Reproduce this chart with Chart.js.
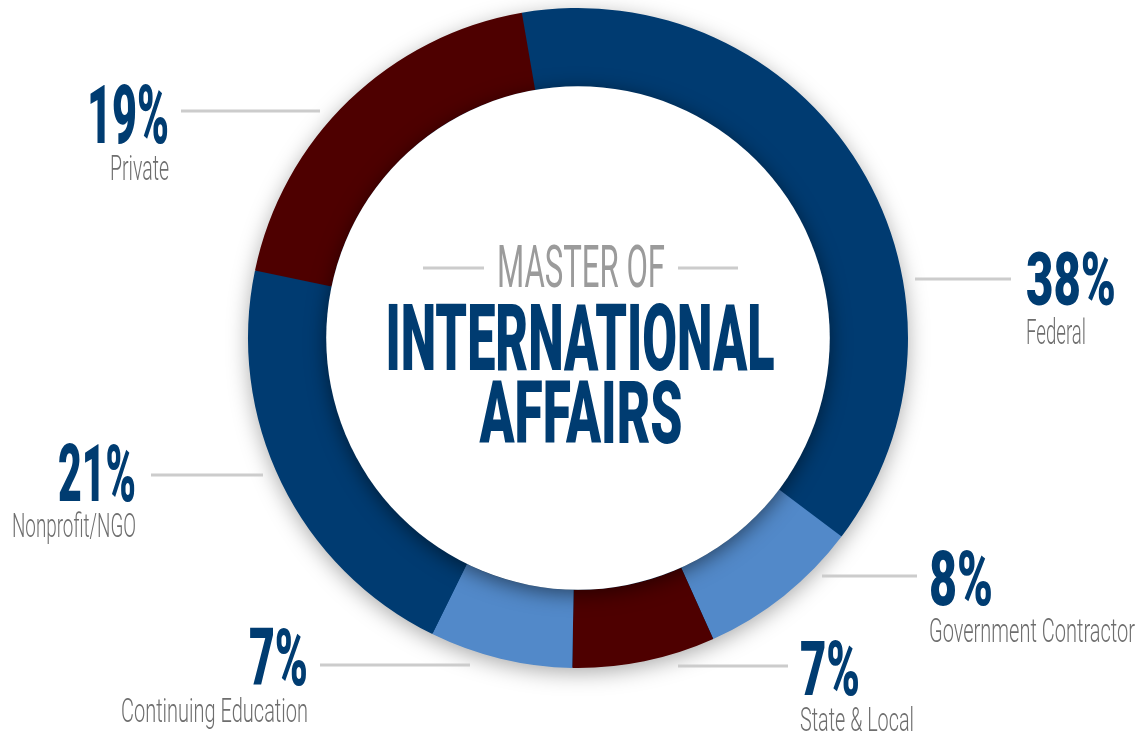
<!DOCTYPE html>
<html>
<head>
<meta charset="utf-8">
<script src="https://cdn.jsdelivr.net/npm/chart.js@4/dist/chart.umd.min.js"></script>
<style>
  html, body { margin: 0; padding: 0; background: #fff; }
  #wrap { width: 1141px; height: 732px; position: relative; }
</style>
</head>
<body>
<div id="wrap"><canvas id="sectors"></canvas></div>
<script>
// chart data
const categories = ['Federal', 'Government Contractor', 'State & Local', 'Continuing Education', 'Nonprofit/NGO', 'Private'];
const shares = [38, 8, 7, 7, 21, 19];
const sliceColors = ['#003b71', '#5289c9', '#4e0000', '#5289c9', '#003b71', '#4e0000'];
const centerLines = ['MASTER OF', 'INTERNATIONAL', 'AFFAIRS'];

const navy = '#003c71';
const nameGrey = '#6e6e6e';
const lineGrey = '#cccccc';

// where each callout sits (number box, name box, leader line)
const callouts = [
  { align: 'left',  x: 1026, numTop: 252, numBase: 305, numW: 90, nameTop: 319, nameBase: 344, nameW: 60, line: [915, 1011, 279] },
  { align: 'left',  x: 929,  numTop: 551, numBase: 605, numW: 64, nameTop: 618, nameBase: 642, nameW: 206, line: [822, 917, 576] },
  { align: 'left',  x: 800,  numTop: 641, numBase: 695, numW: 60, nameTop: 707, nameBase: 731, nameW: 114, line: [678, 788, 666] },
  { align: 'right', x: 308,  numTop: 629, numBase: 685, numW: 59, nameTop: 698, nameBase: 722, nameW: 187, line: [320, 470, 665] },
  { align: 'right', x: 136,  numTop: 444, numBase: 501, numW: 78, nameTop: 514, nameBase: 537, nameW: 124, line: [151, 263, 475] },
  { align: 'right', x: 169,  numTop: 85,  numBase: 143, numW: 82, nameTop: 155, nameBase: 180, nameW: 59, line: [181, 320, 111] }
];

const CAP = 0.711; // Roboto cap height / em

function squeezeText(ctx, text, x, base, capH, width, weight, color, align) {
  const size = capH / CAP;
  ctx.save();
  ctx.font = weight + ' ' + size + 'px Roboto, "DejaVu Sans", sans-serif';
  ctx.fillStyle = color;
  ctx.textBaseline = 'alphabetic';
  ctx.textAlign = align;
  const sx = width / ctx.measureText(text).width;
  ctx.translate(x, base);
  ctx.scale(sx, 1);
  ctx.fillText(text, 0, 0);
  ctx.restore();
}

function hline(ctx, x1, x2, y) {
  ctx.save();
  ctx.strokeStyle = lineGrey;
  ctx.lineWidth = 3;
  ctx.beginPath();
  ctx.moveTo(x1, y);
  ctx.lineTo(x2, y);
  ctx.stroke();
  ctx.restore();
}

const ringShadow = {
  id: 'ringShadow',
  beforeDatasetsDraw(chart) {
    const arc = chart.getDatasetMeta(0).data[0];
    if (!arc) return;
    const ctx = chart.ctx;
    ctx.save();
    ctx.shadowColor = 'rgba(0,0,0,0.35)';
    ctx.shadowBlur = 22;
    ctx.shadowOffsetY = 5;
    ctx.fillStyle = '#003b71';
    ctx.beginPath();
    ctx.arc(arc.x, arc.y, arc.outerRadius - 1, 0, Math.PI * 2);
    ctx.fill();
    ctx.restore();
  },
  afterDatasetsDraw(chart) {
    const arc = chart.getDatasetMeta(0).data[0];
    if (!arc) return;
    const ctx = chart.ctx;
    // white centre disc casting a soft shadow onto the ring
    ctx.save();
    ctx.shadowColor = 'rgba(0,0,0,0.5)';
    ctx.shadowBlur = 20;
    ctx.shadowOffsetY = 4;
    ctx.fillStyle = '#ffffff';
    ctx.beginPath();
    ctx.arc(arc.x, arc.y, arc.innerRadius, 0, Math.PI * 2);
    ctx.fill();
    ctx.restore();

    // centre title
    const cx = arc.x;
    squeezeText(ctx, centerLines[0], cx + 3, 287, 42, 168, 400, '#9b9b9b', 'center');
    hline(ctx, 423, 484, 268);
    hline(ctx, 678, 738, 268);
    squeezeText(ctx, centerLines[1], cx + 2, 370, 66, 389, 900, navy, 'center');
    squeezeText(ctx, centerLines[2], cx + 3, 443, 62, 203, 900, navy, 'center');

    // callouts
    callouts.forEach((c, i) => {
      hline(ctx, c.line[0], c.line[1], c.line[2]);
      squeezeText(ctx, shares[i] + '%', c.x, c.numBase, c.numBase - c.numTop, c.numW, 900, navy, c.align);
      squeezeText(ctx, categories[i], c.x, c.nameBase, c.nameBase - c.nameTop, c.nameW, 300, nameGrey, c.align);
    });
  }
};

new Chart(document.getElementById('sectors').getContext('2d'), {
  type: 'doughnut',
  data: {
    labels: categories,
    datasets: [{
      data: shares,
      backgroundColor: sliceColors,
      borderWidth: 0
    }]
  },
  options: {
    responsive: true,
    maintainAspectRatio: false,
    animation: false,
    cutout: '76.3%',
    rotation: -9.8,
    layout: { padding: { top: 8, bottom: 64, left: 248, right: 233 } },
    plugins: {
      legend: { display: false },
      tooltip: { enabled: false }
    }
  },
  plugins: [ringShadow]
});
</script>
</body>
</html>
